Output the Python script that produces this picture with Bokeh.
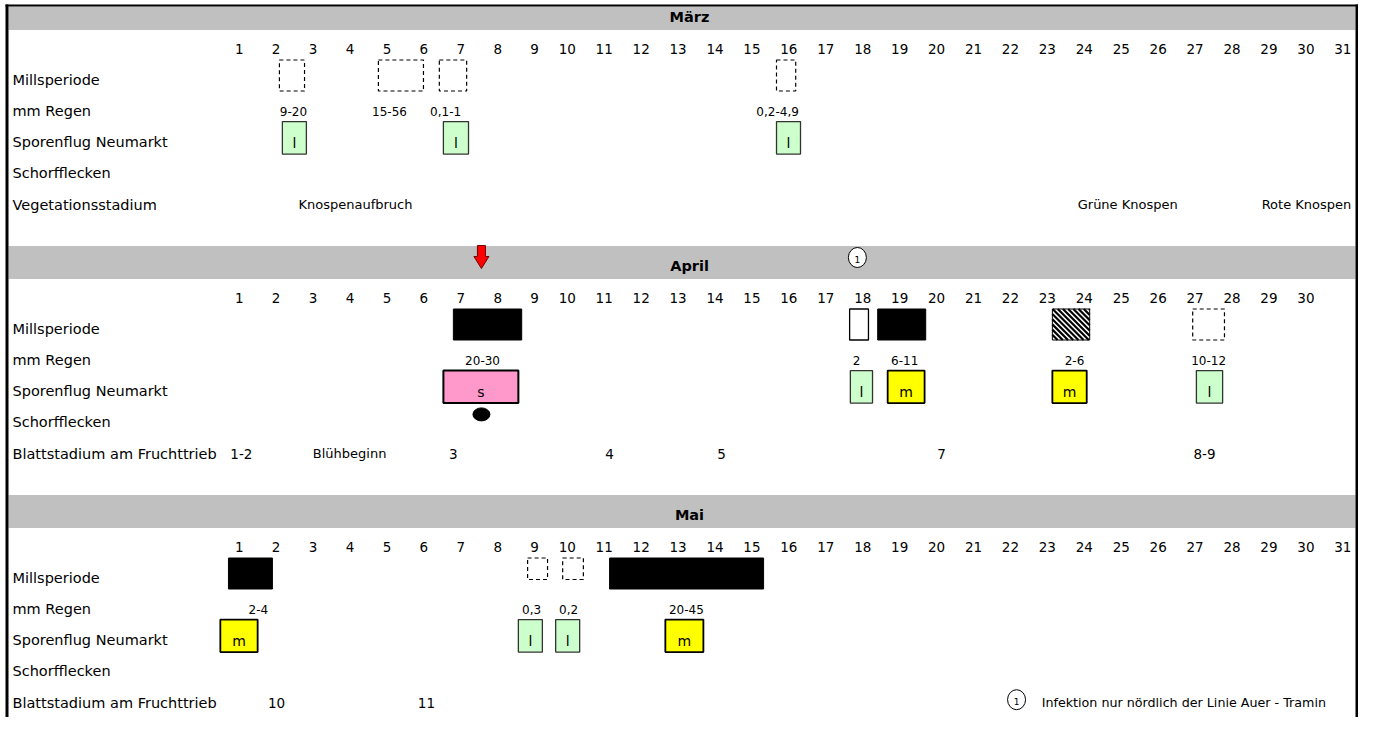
from bokeh.plotting import figure
from bokeh.models import Range1d, ColumnDataSource
from bokeh.core.properties import value
from bokeh.embed import file_html
from bokeh.resources import INLINE

# ---------------- data ----------------
months = ["März", "April", "Mai"]
month_days = [31, 30, 31]
row_labels_maerz = ["Millsperiode", "mm Regen", "Sporenflug Neumarkt",
                    "Schorfflecken", "Vegetationsstadium"]
row_labels_apr_mai = ["Millsperiode", "mm Regen", "Sporenflug Neumarkt",
                      "Schorfflecken", "Blattstadium am Fruchttrieb"]

# Millsperiode (month index, start day, end day, kind)
mill_month = [0, 0, 0, 0, 1, 1, 1, 1, 1, 2, 2, 2, 2]
mill_start = [2.00, 4.68, 6.33, 15.46, 6.71, 17.44, 18.20, 22.93, 26.73, 0.62, 8.72, 9.67, 10.94]
mill_end = [2.68, 5.90, 7.07, 15.98, 8.56, 17.95, 19.50, 23.94, 27.59, 1.81, 9.26, 10.23, 15.11]
mill_kind = ["dashed", "dashed", "dashed", "dashed", "black", "white", "black",
             "hatched", "dashed", "black", "dashed_small", "dashed_small", "black"]

# mm Regen
regen_month = [0, 0, 0, 0, 1, 1, 1, 1, 1, 2, 2, 2, 2]
regen_day = [2.38, 4.98, 6.50, 15.49, 7.50, 17.63, 18.93, 23.53, 27.16, 1.43, 8.83, 9.83, 13.02]
regen_text = ["9-20", "15-56", "0,1-1", "0,2-4,9", "20-30", "2", "6-11", "2-6",
              "10-12", "2-4", "0,3", "0,2", "20-45"]

# Sporenflug Neumarkt (l = leicht, m = mittel, s = stark)
spore_month = [0, 0, 0, 1, 1, 1, 1, 1, 2, 2, 2, 2]
spore_start = [2.08, 6.44, 15.46, 6.44, 17.46, 18.47, 22.93, 26.83, 0.40, 8.47, 9.48, 12.45]
spore_end = [2.73, 7.12, 16.11, 8.47, 18.06, 19.47, 23.86, 27.54, 1.41, 9.12, 10.13, 13.48]
spore_type = ["l", "l", "l", "s", "l", "m", "m", "l", "m", "l", "l", "m"]

# Schorfflecken
schorf_month = [1]
schorf_day = [7.47]

# Vegetations- / Blattstadium
stadium_month = [0, 0, 0, 1, 1, 1, 1, 1, 1, 1, 2, 2]
stadium_day = [4.06, 24.97, 29.81, 0.97, 3.90, 6.71, 10.94, 13.97, 19.93, 27.05, 1.92, 5.98]
stadium_text = ["Knospenaufbruch", "Grüne Knospen", "Rote Knospen", "1-2", "Blühbeginn",
                "3", "4", "5", "7", "8-9", "10", "11"]

# markers
arrow_month = [1]
arrow_day = [7.47]
note_mark_month = [1]
note_mark_day = [17.65]
footnote_month = [2]
footnote_day = [21.96]
footnote_text = ["Infektion nur nördlich der Linie Auer - Tramin"]

# ---------------- layout ----------------
W, H = 1358, 717
X0, DX = 242.0, 36.93          # px of day 1, px per day


def px2d(px):
    return 1 + (px - X0) / DX


def d2px(d):
    return X0 + (d - 1) * DX


SEC = 249.0


def base(m):
    return m * SEC


def row_y(m, r):
    return base(m) + 79 + 31.3 * r


FONT = value("DejaVu Sans")

p = figure(width=W, height=H, output_backend="svg", toolbar_location=None,
           x_range=Range1d(px2d(0), px2d(W)), y_range=Range1d(H, 0),
           x_axis_type=None, y_axis_type=None, min_border=0,
           background_fill_color="white", border_fill_color="white")
p.outline_line_color = None
p.grid.visible = False

L, R = px2d(8), px2d(W - 3)

# month bands
p.quad(left=[L] * 3, right=[R] * 3,
       top=[max(base(m) - 3.5, 6) for m in range(3)], bottom=[base(m) + 29.5 for m in range(3)],
       fill_color="#C0C0C0", line_color=None)
p.text(x=[px2d(689)] * 3, y=[base(m) + 16 for m in range(3)], text=months,
       text_font=FONT, text_font_size=value("14.5px"), text_font_style="bold",
       text_align="center", text_baseline="middle", text_color="black")

# borders
p.quad(left=[px2d(5)], right=[px2d(8)], top=[4], bottom=[H], fill_color="black", line_color=None)
p.quad(left=[px2d(W - 3)], right=[px2d(W)], top=[4], bottom=[H], fill_color="black", line_color=None)
p.quad(left=[px2d(5)], right=[px2d(W)], top=[4], bottom=[6], fill_color="black", line_color=None)

# day numbers
dx_, dy_, dt_ = [], [], []
for m, n in enumerate(month_days):
    for d in range(1, n + 1):
        dx_.append(d + 1.0 / DX)
        dy_.append(base(m) + 48)
        dt_.append(str(d))
p.text(x=dx_, y=dy_, text=dt_, text_font=FONT, text_font_size=value("13.5px"),
       text_align="right", text_baseline="middle", text_color="black")

# row labels
lx, ly, lt = [], [], []
for m in range(3):
    labels = row_labels_maerz if m == 0 else row_labels_apr_mai
    for r, lab in enumerate(labels):
        lx.append(px2d(12))
        ly.append(row_y(m, r))
        lt.append(lab)
p.text(x=lx, y=ly, text=lt, text_font=FONT, text_font_size=value("14.5px"),
       text_align="left", text_baseline="middle", text_color="black")

# Millsperiode boxes
styles = {
    "dashed": dict(fill_color="white", line_color="black", line_dash="4 3", line_width=1.2),
    "dashed_small": dict(fill_color="white", line_color="black", line_dash="4 3", line_width=1.2),
    "black": dict(fill_color="black", line_color="black", line_width=1),
    "white": dict(fill_color="white", line_color="black", line_width=1.3),
    "hatched": dict(fill_color="white", line_color="black", line_width=1),
}
hatch_xs, hatch_ys = [], []
for kind, st in styles.items():
    idx = [i for i, k in enumerate(mill_kind) if k == kind]
    if not idx:
        continue
    lo = 2 if kind == "dashed_small" else 11.5
    tops = [row_y(mill_month[i], 0) - 19.5 for i in idx]
    bots = [row_y(mill_month[i], 0) + lo for i in idx]
    src = ColumnDataSource(dict(
        left=[mill_start[i] for i in idx], right=[mill_end[i] for i in idx],
        top=tops, bottom=bots))
    p.quad(left="left", right="right", top="top", bottom="bottom", source=src, **st)
    if kind == "hatched":
        # diagonal "\" stripes clipped to each box
        for i, ty, by in zip(idx, tops, bots):
            lpx, rpx = d2px(mill_start[i]), d2px(mill_end[i])
            c = lpx - (by - ty)
            while c < rpx:
                x_a, y_a = c, ty
                if x_a < lpx:
                    y_a = ty + (lpx - c)
                    x_a = lpx
                x_b, y_b = c + (by - ty), by
                if x_b > rpx:
                    y_b = ty + (rpx - c)
                    x_b = rpx
                if y_b > y_a:
                    hatch_xs.append([px2d(x_a), px2d(x_b)])
                    hatch_ys.append([y_a, y_b])
                c += 5.2
if hatch_xs:
    p.multi_line(xs=hatch_xs, ys=hatch_ys, line_color="black", line_width=2.2)

# mm Regen
p.text(x=regen_day, y=[row_y(m, 1) + 1 for m in regen_month], text=regen_text,
       text_font=FONT, text_font_size=value("12px"), text_align="center",
       text_baseline="middle", text_color="black")

# Sporenflug boxes
spore_style = {
    "l": dict(fill_color="#CCFFCC", line_color="#333333", line_width=1.3),
    "m": dict(fill_color="#FFFF00", line_color="black", line_width=1.8),
    "s": dict(fill_color="#FF99CC", line_color="black", line_width=2),
}
for t, st in spore_style.items():
    idx = [i for i, k in enumerate(spore_type) if k == t]
    src = ColumnDataSource(dict(
        left=[spore_start[i] for i in idx], right=[spore_end[i] for i in idx],
        top=[row_y(spore_month[i], 2) - 20.5 for i in idx],
        bottom=[row_y(spore_month[i], 2) + 12 for i in idx]))
    p.quad(left="left", right="right", top="top", bottom="bottom", source=src, **st)
p.text(x=[(a + b) / 2 for a, b in zip(spore_start, spore_end)],
       y=[row_y(m, 2) + 0.5 for m in spore_month], text=spore_type,
       text_font=FONT, text_font_size=value("14px"), text_align="center",
       text_baseline="alphabetic", text_color="black")

# Schorfflecken
p.ellipse(x=schorf_day, y=[row_y(m, 3) - 8 for m in schorf_month], width=17, height=13,
          width_units="screen", height_units="screen", fill_color="black", line_color="black")

# stadium texts
for numeric in (True, False):
    idx = [i for i, t in enumerate(stadium_text) if t[0].isdigit() == numeric]
    p.text(x=[stadium_day[i] for i in idx], y=[row_y(stadium_month[i], 4) for i in idx],
           text=[stadium_text[i] for i in idx], text_font=FONT,
           text_font_size=value("13.5px" if numeric else "13px"),
           text_align="center", text_baseline="middle", text_color="black")

# red arrow
for m, d in zip(arrow_month, arrow_day):
    b = base(m)
    hw, hh = 4 / DX, 7.5 / DX
    xs = [d - hw, d + hw, d + hw, d + hh, d, d - hh, d - hw]
    ys = [b - 4, b - 4, b + 7, b + 7, b + 19, b + 7, b + 7]
    p.patch(xs, ys, fill_color="#FF0000", line_color="#700000", line_width=1)

# footnote markers (circled 1)
mk_x = note_mark_day + footnote_day
mk_y = [base(m) + 8 for m in note_mark_month] + [row_y(m, 4) - 3 for m in footnote_month]
p.ellipse(x=mk_x, y=mk_y, width=18, height=20, width_units="screen", height_units="screen",
          fill_color="white", line_color="black", line_width=1)
p.text(x=mk_x, y=[y + 1.5 for y in mk_y], text=["1"] * len(mk_x), text_font=FONT,
       text_font_size=value("9px"), text_align="center", text_baseline="middle",
       text_color="black")

# footnote text
p.text(x=[d + 0.68 for d in footnote_day], y=[row_y(m, 4) for m in footnote_month],
       text=footnote_text, text_font=FONT, text_font_size=value("12.7px"),
       text_align="left", text_baseline="middle", text_color="black")

open("out.html", "w").write(file_html(p, INLINE))
